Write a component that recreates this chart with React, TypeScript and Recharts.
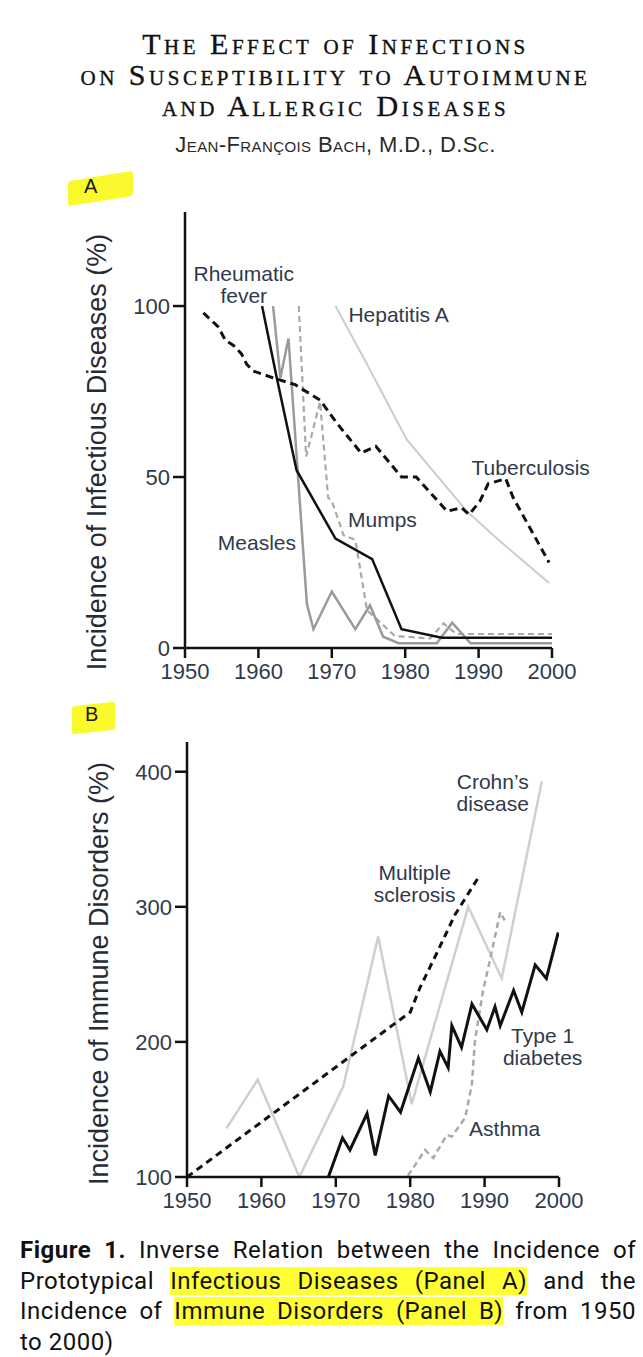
import React from 'react';
import { LineChart, Line, XAxis, YAxis, ReferenceDot } from 'recharts';

// ---------- Panel A: incidence of infectious diseases (%) ----------
const tuberculosis = [
  { x: 1952.5, v: 98 }, { x: 1954.5, v: 94 }, { x: 1955.5, v: 90 }, { x: 1956.6, v: 88.5 },
  { x: 1957.7, v: 86 }, { x: 1958.4, v: 83 }, { x: 1959.3, v: 81 }, { x: 1962, v: 79 },
  { x: 1965, v: 77 }, { x: 1968.4, v: 72.5 }, { x: 1970.6, v: 66 }, { x: 1974, v: 57 },
  { x: 1976, v: 59 }, { x: 1979.5, v: 50 }, { x: 1981.5, v: 50 }, { x: 1985.7, v: 40 },
  { x: 1987.7, v: 41 }, { x: 1988.7, v: 39 }, { x: 1990.2, v: 43 }, { x: 1991.3, v: 48 },
  { x: 1993.7, v: 49.5 }, { x: 1994.7, v: 44 }, { x: 1999.6, v: 25 },
];
const rheumaticFever = [
  { x: 1960.5, v: 100 }, { x: 1962.5, v: 79 }, { x: 1965.2, v: 52 }, { x: 1970.5, v: 32 },
  { x: 1975.5, v: 26 }, { x: 1979.5, v: 5.5 }, { x: 1985, v: 3 }, { x: 2000, v: 3 },
];
const measles = [
  { x: 1962, v: 100 }, { x: 1963, v: 79 }, { x: 1964.1, v: 90.5 }, { x: 1966.6, v: 13 },
  { x: 1967.5, v: 5.5 }, { x: 1970, v: 16.5 }, { x: 1973.2, v: 5.5 }, { x: 1975.2, v: 12.5 },
  { x: 1977, v: 3.3 }, { x: 1979.1, v: 1.4 }, { x: 1984.3, v: 1.4 }, { x: 1986.4, v: 7.4 },
  { x: 1988.9, v: 1.4 }, { x: 2000, v: 1.4 },
];
const mumps = [
  { x: 1965.5, v: 100 }, { x: 1966.5, v: 56 }, { x: 1968.4, v: 72 }, { x: 1969.5, v: 44 },
  { x: 1970, v: 43 }, { x: 1971.6, v: 33 }, { x: 1973.2, v: 31.6 }, { x: 1974.8, v: 11 },
  { x: 1976.6, v: 7.5 }, { x: 1978.6, v: 3.5 }, { x: 1983.4, v: 2.8 }, { x: 1985.2, v: 7.2 },
  { x: 1987, v: 4.1 }, { x: 2000, v: 4.1 },
];
const hepatitisA = [
  { x: 1970.5, v: 100 }, { x: 1974.8, v: 83 }, { x: 1980.2, v: 61 }, { x: 1984.3, v: 50.5 },
  { x: 1988.4, v: 40 }, { x: 1992.5, v: 32 }, { x: 1999.6, v: 19 },
];

// ---------- Panel B: incidence of immune disorders (%) ----------
const multipleSclerosis = [
  { x: 1950, v: 100 }, { x: 1980, v: 222 }, { x: 1981.3, v: 240 }, { x: 1983.6, v: 266 },
  { x: 1986, v: 294 }, { x: 1989.2, v: 322 },
];
const crohnsDisease = [
  { x: 1955.3, v: 136 }, { x: 1959.5, v: 172 }, { x: 1965.1, v: 100 }, { x: 1971, v: 167 },
  { x: 1975.7, v: 278 }, { x: 1980.2, v: 154 }, { x: 1987.8, v: 300 }, { x: 1992.3, v: 247 },
  { x: 1997.7, v: 393 },
];
const type1Diabetes = [
  { x: 1969, v: 100 }, { x: 1970.9, v: 129 }, { x: 1971.9, v: 120 }, { x: 1974.2, v: 147 },
  { x: 1975.3, v: 116 }, { x: 1977.1, v: 160 }, { x: 1978.7, v: 148 }, { x: 1981.1, v: 188 },
  { x: 1982.7, v: 163 }, { x: 1984, v: 193 }, { x: 1985.1, v: 181 }, { x: 1985.6, v: 212 },
  { x: 1986.9, v: 196 }, { x: 1988.3, v: 228 }, { x: 1990.3, v: 209 }, { x: 1991.4, v: 226 },
  { x: 1992.1, v: 212 }, { x: 1993.9, v: 238 }, { x: 1995, v: 222 }, { x: 1996.8, v: 257 },
  { x: 1998.3, v: 247 }, { x: 1999.9, v: 281 },
];
const asthma = [
  { x: 1979.7, v: 101 }, { x: 1982, v: 120 }, { x: 1983.1, v: 114 }, { x: 1984.9, v: 131 },
  { x: 1985.6, v: 130 }, { x: 1987.4, v: 144 }, { x: 1988.3, v: 169 }, { x: 1988.7, v: 201 },
  { x: 1989.8, v: 238 }, { x: 1990.7, v: 260 }, { x: 1992.1, v: 296 }, { x: 1992.7, v: 290 },
];

// ---------- ticks ----------
const yearTicks = [1950, 1960, 1970, 1980, 1990, 2000];
const ticksA = [0, 50, 100];
const ticksB = [100, 200, 300, 400];

// ---------- series labels (text + anchor in data space) ----------
const labelsA = [
  { lines: ['Rheumatic', 'fever'], x: 1958.0, y: 109.6 },
  { lines: ['Hepatitis A'], x: 1979.1, y: 97.4 },
  { lines: ['Tuberculosis'], x: 1997.1, y: 52.6 },
  { lines: ['Mumps'], x: 1976.9, y: 37.4 },
  { lines: ['Measles'], x: 1959.8, y: 30.7 },
];
const labelsB = [
  { lines: ['Crohn\u2019s', 'disease'], x: 1991.1, y: 392.6 },
  { lines: ['Multiple', 'sclerosis'], x: 1980.6, y: 325.2 },
  { lines: ['Type 1', 'diabetes'], x: 1997.8, y: 205 },
  { lines: ['Asthma'], x: 1992.7, y: 136 },
];

const SANS = "'Liberation Sans', Arial, Helvetica, sans-serif";
const TEXT = '#2f3a4c';
const AXIS = '#111111';

const makeLabel = (lines: string[]) => (props: any) => {
  const { cx, cy } = props;
  return (
    <text x={cx} y={cy} textAnchor="middle" fontFamily={SANS} fontSize={21} fill={TEXT}>
      {lines.map((l, i) => (
        <tspan key={i} x={cx} dy={i === 0 ? '0.35em' : 22}>
          {l}
        </tspan>
      ))}
    </text>
  );
};

const axisTitle = (text: string, dyCenter: number) => (props: any) => {
  const vb = props.viewBox || {};
  const x = vb.x - 19;
  const y = vb.y + vb.height / 2 + dyCenter;
  return (
    <text
      x={x}
      y={y}
      transform={`rotate(-90, ${x}, ${y})`}
      textAnchor="middle"
      fontFamily={SANS}
      fontSize={27}
      fill="#262b34"
    >
      {text}
    </text>
  );
};

const tickStyle = { fill: TEXT, fontSize: 22, fontFamily: SANS };
const lineStyle: React.CSSProperties = { textAlign: 'justify', textAlignLast: 'justify', whiteSpace: 'nowrap' };
const hl: React.CSSProperties = { background: '#ffff33' };

export default function App() {
  return (
    <div
      style={{
        position: 'absolute',
        left: 0,
        top: 0,
        width: 643,
        height: 1357,
        background: '#ffffff',
        overflow: 'hidden',
      }}
    >
      {/* Title */}
      <div
        style={{
          position: 'absolute',
          top: 28,
          left: 14,
          width: 643,
          textAlign: 'center',
          fontFamily: "'Liberation Serif', 'DejaVu Serif', serif",
          fontVariant: 'small-caps',
          fontSize: 30,
          letterSpacing: 3.5,
          lineHeight: '31px',
          color: '#111',
          WebkitTextStroke: '0.35px #111',
        }}
      >
        <div>The Effect of Infections</div>
        <div>on Susceptibility to Autoimmune</div>
        <div>and Allergic Diseases</div>
      </div>
      <div
        style={{
          position: 'absolute',
          top: 132,
          left: 14,
          width: 643,
          textAlign: 'center',
          fontFamily: SANS,
          fontVariant: 'small-caps',
          fontSize: 22,
          letterSpacing: 0.4,
          lineHeight: '26px',
          color: '#2a2a2a',
        }}
      >
        Jean-François Bach, M.D., D.Sc.
      </div>

      {/* Panel letters with highlighter */}
      <div
        style={{
          position: 'absolute',
          left: 68,
          top: 176,
          width: 65,
          height: 25,
          background: '#f9f92c',
          transform: 'skewY(-9deg)',
          borderRadius: 3,
        }}
      />
      <div style={{ position: 'absolute', left: 84, top: 175, fontFamily: SANS, fontSize: 20, color: '#1a1a1a' }}>A</div>
      <div
        style={{
          position: 'absolute',
          left: 72,
          top: 704,
          width: 43,
          height: 28,
          background: '#f9f92c',
          transform: 'skewY(-6deg)',
          borderRadius: 3,
        }}
      />
      <div style={{ position: 'absolute', left: 85, top: 703, fontFamily: SANS, fontSize: 20, color: '#1a1a1a' }}>B</div>

      {/* Panel A */}
      <div style={{ position: 'absolute', left: 0, top: 0 }}>
        <LineChart width={643} height={700} margin={{ top: 212, right: 91, bottom: 12, left: 125 }}>
          <XAxis
            type="number"
            dataKey="x"
            domain={[1950, 2000]}
            ticks={yearTicks}
            allowDataOverflow
            height={40}
            tickSize={10}
            tickMargin={5}
            axisLine={{ stroke: AXIS, strokeWidth: 2.5 }}
            tickLine={{ stroke: AXIS, strokeWidth: 2.5 }}
            tick={tickStyle}
          />
          <YAxis
            type="number"
            dataKey="v"
            domain={[0, 127.5]}
            ticks={ticksA}
            allowDataOverflow
            width={60}
            tickSize={12}
            tickMargin={3}
            axisLine={{ stroke: AXIS, strokeWidth: 2.5 }}
            tickLine={{ stroke: AXIS, strokeWidth: 2.5 }}
            tick={tickStyle}
            label={axisTitle('Incidence of Infectious Diseases (%)', 22)}
          />
          <Line data={hepatitisA} dataKey="v" stroke="#cccccc" strokeWidth={2} dot={false} activeDot={false} isAnimationActive={false} />
          <Line data={mumps} dataKey="v" stroke="#a9a9a9" strokeWidth={2.2} strokeDasharray="6 4" dot={false} activeDot={false} isAnimationActive={false} />
          <Line data={measles} dataKey="v" stroke="#9a9a9a" strokeWidth={2.5} dot={false} activeDot={false} isAnimationActive={false} />
          <Line data={rheumaticFever} dataKey="v" stroke="#111111" strokeWidth={2.5} dot={false} activeDot={false} isAnimationActive={false} />
          <Line data={tuberculosis} dataKey="v" stroke="#111111" strokeWidth={3} strokeDasharray="8 5" dot={false} activeDot={false} isAnimationActive={false} />
          {labelsA.map((l, i) => (
            <ReferenceDot key={i} x={l.x} y={l.y} r={0} ifOverflow="visible" shape={makeLabel(l.lines)} />
          ))}
        </LineChart>
      </div>

      {/* Panel B */}
      <div style={{ position: 'absolute', left: 0, top: 700 }}>
        <LineChart width={643} height={530} margin={{ top: 42, right: 84, bottom: 13, left: 127 }}>
          <XAxis
            type="number"
            dataKey="x"
            domain={[1950, 2000]}
            ticks={yearTicks}
            allowDataOverflow
            height={40}
            tickSize={10}
            tickMargin={5}
            axisLine={{ stroke: AXIS, strokeWidth: 2.5 }}
            tickLine={{ stroke: AXIS, strokeWidth: 2.5 }}
            tick={tickStyle}
          />
          <YAxis
            type="number"
            dataKey="v"
            domain={[100, 422]}
            ticks={ticksB}
            allowDataOverflow
            width={60}
            tickSize={12}
            tickMargin={3}
            axisLine={{ stroke: AXIS, strokeWidth: 2.5 }}
            tickLine={{ stroke: AXIS, strokeWidth: 2.5 }}
            tick={tickStyle}
            label={axisTitle('Incidence of Immune Disorders (%)', 14)}
          />
          <Line data={crohnsDisease} dataKey="v" stroke="#cfcfcf" strokeWidth={2.5} dot={false} activeDot={false} isAnimationActive={false} />
          <Line data={asthma} dataKey="v" stroke="#a9a9a9" strokeWidth={2.5} strokeDasharray="6 4" dot={false} activeDot={false} isAnimationActive={false} />
          <Line data={multipleSclerosis} dataKey="v" stroke="#111111" strokeWidth={3} strokeDasharray="7 5" dot={false} activeDot={false} isAnimationActive={false} />
          <Line data={type1Diabetes} dataKey="v" stroke="#111111" strokeWidth={3} dot={false} activeDot={false} isAnimationActive={false} />
          {labelsB.map((l, i) => (
            <ReferenceDot key={i} x={l.x} y={l.y} r={0} ifOverflow="visible" shape={makeLabel(l.lines)} />
          ))}
        </LineChart>
      </div>

      {/* Caption */}
      <div
        style={{
          position: 'absolute',
          left: 20,
          top: 1235,
          width: 616,
          fontFamily: "Roboto, 'Liberation Sans', sans-serif",
          fontSize: 24,
          letterSpacing: 0.5,
          lineHeight: '30.5px',
          color: '#111',
        }}
      >
        <div style={lineStyle}>
          <b>Figure 1.</b> Inverse Relation between the Incidence of
        </div>
        <div style={lineStyle}>
          Prototypical <span style={hl}>Infectious Diseases (Panel A)</span> and the
        </div>
        <div style={lineStyle}>
          Incidence of <span style={hl}>Immune Disorders (Panel B)</span> from 1950
        </div>
        <div>to 2000)</div>
      </div>
    </div>
  );
}
